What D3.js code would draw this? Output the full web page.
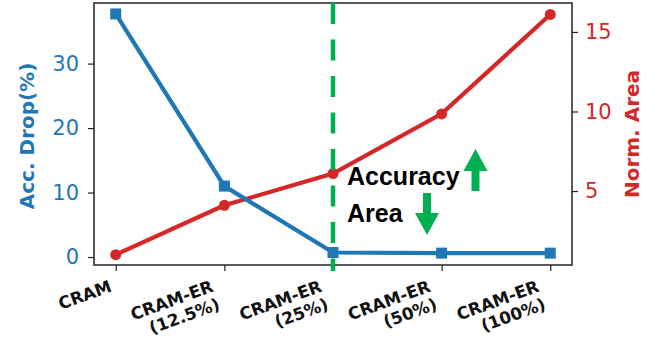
<!DOCTYPE html>
<html><head><meta charset="utf-8">
<script src="https://cdn.jsdelivr.net/npm/d3@7/dist/d3.min.js"></script>
<style>body{margin:0;background:#fff}svg{display:block}</style>
</head><body>
<script>
const categories = ["CRAM", "CRAM-ER\n(12.5%)", "CRAM-ER\n(25%)", "CRAM-ER\n(50%)", "CRAM-ER\n(100%)"];
const accDrop = [37.7, 11.0, 0.7, 0.6, 0.6];
const normArea = [1.0, 4.1, 6.1, 9.85, 16.1];
const leftTicks = [0, 10, 20, 30];
const rightTicks = [5, 10, 15];
const markerCategory = "CRAM-ER\n(25%)";

const W = 658, H = 339;
const L = 94, R = 572, T = 3, B = 265;
const blue = "#1f77b4", red = "#d62728", green = "#00b050";

const svg = d3.select("body").append("svg").attr("width", W).attr("height", H);

const x = d3.scalePoint().domain(categories).range([L, R]).padding(0.2);
const yL = d3.scaleLinear().domain([-1.24, 39.4]).range([B, T]);
const yR = d3.scaleLinear().domain([0.35, 16.82]).range([B, T]);

// axes
const axL = svg.append("g").attr("transform", `translate(${L},0)`)
  .call(d3.axisLeft(yL).tickValues(leftTicks).tickSize(6).tickPadding(9));
axL.select(".domain").remove();
axL.selectAll("line").attr("stroke", "#222").attr("stroke-width", 1.2);
axL.selectAll("text").attr("fill", blue).style("font-family", "DejaVu Sans").style("font-size", "21px");

const axR = svg.append("g").attr("transform", `translate(${R},0)`)
  .call(d3.axisRight(yR).tickValues(rightTicks).tickSize(6).tickPadding(7));
axR.select(".domain").remove();
axR.selectAll("line").attr("stroke", "#222").attr("stroke-width", 1.2);
axR.selectAll("text").attr("fill", red).style("font-family", "DejaVu Sans").style("font-size", "21px");

const axB = svg.append("g").attr("transform", `translate(0,${B})`)
  .call(d3.axisBottom(x).tickSize(6).tickFormat(""));
axB.select(".domain").remove();
axB.selectAll("line").attr("stroke", "#222").attr("stroke-width", 1.2);

// x labels rotated
categories.forEach(c => {
  const lines = c.split("\n");
  const n = lines.length;
  const g = svg.append("g").attr("transform", `translate(${x(c) - 3 - (n - 1) * 7},${B + 26}) rotate(-20)`);
  lines.forEach((t, i) => {
    g.append("text").attr("x", 0).attr("y", i * 19)
      .attr("text-anchor", "end")
      .style("font-family", "DejaVu Sans").style("font-weight", "bold").style("font-size", "16.8px")
      .attr("fill", "#111").text(t);
  });
});

// frame
svg.append("rect").attr("x", L).attr("y", T).attr("width", R - L).attr("height", B - T)
  .attr("fill", "none").attr("stroke", "#222").attr("stroke-width", 1.5);

// red series
const lineR = d3.line().x((d, i) => x(categories[i])).y(d => yR(d));
svg.append("path").datum(normArea).attr("d", lineR).attr("fill", "none")
  .attr("stroke", red).attr("stroke-width", 4.2);
svg.selectAll(".pr").data(normArea).enter().append("circle")
  .attr("cx", (d, i) => x(categories[i])).attr("cy", d => yR(d)).attr("r", 5.5).attr("fill", red);

// dashed green line
svg.append("line").attr("x1", x(markerCategory)).attr("x2", x(markerCategory))
  .attr("y1", T).attr("y2", B + 6).attr("stroke", green).attr("stroke-width", 4.5)
  .attr("stroke-dasharray", "21,15.5");

// blue series
const lineB = d3.line().x((d, i) => x(categories[i])).y(d => yL(d));
svg.append("path").datum(accDrop).attr("d", lineB).attr("fill", "none")
  .attr("stroke", blue).attr("stroke-width", 4.2);
svg.selectAll(".pb").data(accDrop).enter().append("rect")
  .attr("x", (d, i) => x(categories[i]) - 5.5).attr("y", d => yL(d) - 5.5)
  .attr("width", 11).attr("height", 11).attr("fill", blue);

// axis titles
svg.append("text").attr("transform", `translate(34,136) rotate(-90)`).attr("text-anchor", "middle")
  .style("font-family", "DejaVu Sans").style("font-weight", "bold").style("font-size", "20px")
  .attr("fill", blue).text("Acc. Drop(%)");
svg.append("text").attr("transform", `translate(639,134) rotate(-90)`).attr("text-anchor", "middle")
  .style("font-family", "DejaVu Sans").style("font-weight", "bold").style("font-size", "20px")
  .attr("fill", red).text("Norm. Area");

// annotation
const ann = svg.append("g").style("font-family", "Liberation Sans").style("font-weight", "bold")
  .style("font-size", "25px").attr("fill", "#000");
ann.append("text").attr("x", 347).attr("y", 185).text("Accuracy");
ann.append("text").attr("x", 347).attr("y", 222).text("Area");

// arrows
function arrow(cx, yTip, yEnd, headW, headH, shaftW) {
  const dir = yEnd > yTip ? 1 : -1;
  const yb = yTip + dir * headH;
  const pts = [[cx, yTip], [cx + headW / 2, yb], [cx + shaftW / 2, yb], [cx + shaftW / 2, yEnd],
    [cx - shaftW / 2, yEnd], [cx - shaftW / 2, yb], [cx - headW / 2, yb]];
  svg.append("path").attr("d", "M" + pts.map(p => p.join(",")).join("L") + "Z").attr("fill", green);
}
arrow(475.5, 149, 191, 24, 22, 8);
arrow(427, 235, 193, 24, 22, 8);
</script>
</body></html>
